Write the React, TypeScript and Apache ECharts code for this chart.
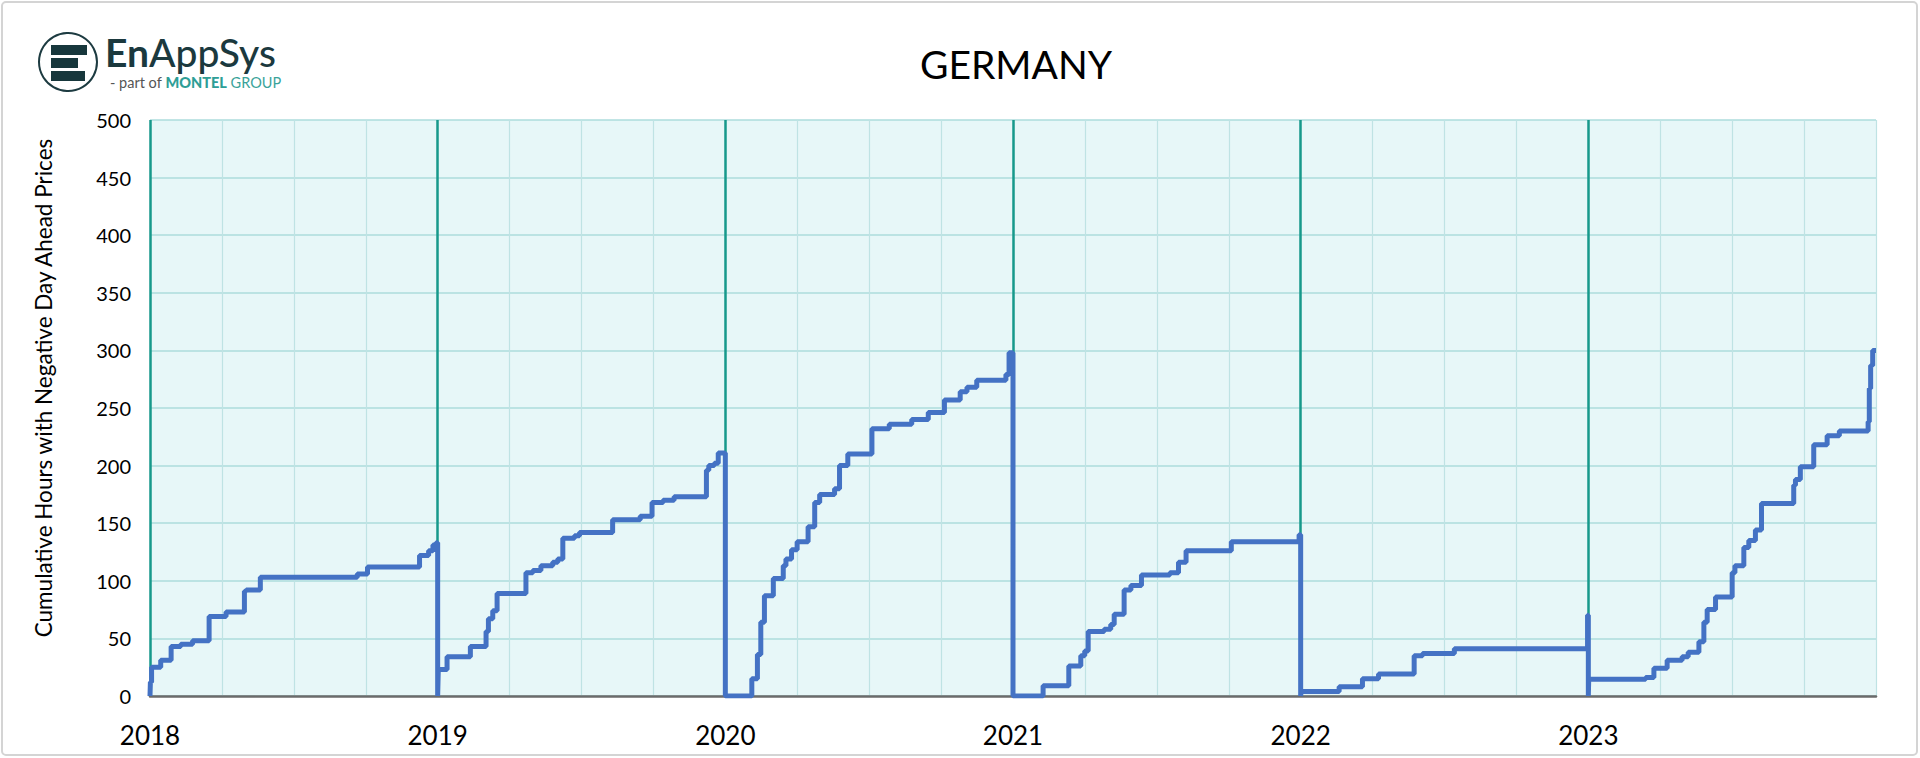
import React, { useEffect, useRef } from 'react';
import * as echarts from 'echarts';

const FONT = 'Lato, "Noto Sans", sans-serif';

// Years shown on the x axis
const YEARS = [2018, 2019, 2020, 2021, 2022, 2023];

// Cumulative hours with negative day-ahead prices: [day of year, cumulative hours]
const y2018: [number, number][] = [
  [0, 0], [0.5, 12], [2, 25], [13.6, 31], [26.8, 43], [39, 45], [54, 48], [75, 69], [96.5, 73],
  [119.8, 91], [122, 92], [140, 103], [263, 106], [276, 112], [342, 122], [353.5, 126],
  [359, 131], [363, 133], [365, 0],
];
const y2019: [number, number][] = [
  [0, 0], [0.8, 23], [11.9, 34], [41.5, 43], [61.4, 56], [64.4, 67], [69.9, 74], [75.4, 89],
  [112, 107], [120.7, 109], [131, 113], [146, 116], [152.4, 119], [158.8, 137], [173.6, 139],
  [180, 142], [222, 153], [257, 156], [272, 168], [286, 170], [300, 173], [341, 196],
  [344, 200], [351, 202], [356, 211], [365, 0],
];
const y2020: [number, number][] = [
  [0, 0], [33.6, 15], [40.7, 36], [45, 64], [49.6, 87], [60.9, 102], [73.5, 113], [76.9, 119],
  [84, 127], [91.1, 134], [105, 147], [113.4, 168], [119.7, 175], [138.6, 180], [144.9, 200],
  [155.4, 210], [186, 232], [208, 236], [236.5, 240], [257.5, 246], [278, 257], [298, 264],
  [306.6, 268], [319, 274], [356, 279], [360, 298], [365, 0],
];
const y2021: [number, number][] = [
  [0, 0], [38.2, 9], [70.8, 26], [86, 35], [91, 39], [95.4, 56], [115.7, 58], [124, 62],
  [128.4, 71], [141, 92], [149.6, 96], [163, 105], [199, 107], [210, 116], [219.6, 126],
  [277, 134], [363, 140], [365, 0],
];
const y2022: [number, number][] = [
  [0, 0], [0.5, 4], [48.8, 8], [78.4, 15], [98.8, 19], [144, 35], [154.7, 37], [195, 41],
  [364, 70], [365, 0],
];
const y2023: [number, number][] = [
  [0, 0], [0.5, 14.5], [72.7, 16], [83.2, 24], [100, 31], [119, 34], [126.7, 38], [140.3, 47],
  [146.6, 64], [150.8, 75], [161.4, 86], [182.5, 107], [186, 113], [197.3, 129], [203.6, 135],
  [212, 144], [219.7, 167], [260.6, 183], [262.8, 188], [269, 199], [286, 218], [303, 226],
  [318.5, 230], [355, 238], [356.5, 267], [358.2, 287], [360.8, 300], [365, 300],
];
const YEAR_DATA = [y2018, y2019, y2020, y2021, y2022, y2023];

const Y_TITLE = 'Cumulative Hours with Negative Day Ahead Prices';
const CHART_TITLE = 'GERMANY';

function buildLine(): [number, number][] {
  const out: [number, number][] = [];
  YEAR_DATA.forEach((arr, i) => {
    const yr = YEARS[i];
    arr.forEach(([d, v]) => out.push([yr + d / 365, v]));
  });
  return out;
}

export default function App() {
  const ref = useRef<HTMLDivElement>(null);
  useEffect(() => {
    document.body.style.margin = '0';
    if (!ref.current) return;
    const chart = echarts.init(ref.current, null, { renderer: 'svg' });
    chart.setOption({
      animation: false,
      backgroundColor: '#ffffff',
      grid: {
        left: 150, right: 44, top: 120, bottom: 62,
        show: true, backgroundColor: '#e7f7f8', borderWidth: 0,
      },
      xAxis: {
        type: 'value', min: 2018, max: 2024, interval: 0.25,
        axisLine: { show: true, lineStyle: { color: '#6b6b6b', width: 2.5 } },
        axisTick: { show: false },
        axisLabel: {
          formatter: (v: number) => (Number.isInteger(v) && v < 2024 ? String(v) : ''),
          fontSize: 26, color: '#000', margin: 26, fontFamily: FONT,
        },
        splitLine: { show: true, lineStyle: { color: '#bfe3e4', width: 1.2 } },
      },
      yAxis: {
        type: 'value', min: 0, max: 500, interval: 50,
        axisLine: { show: false }, axisTick: { show: false },
        axisLabel: { fontSize: 20, color: '#000', margin: 19, fontFamily: FONT },
        splitLine: { lineStyle: { color: '#acdcdd', width: 1.5 } },
        name: Y_TITLE, nameLocation: 'middle', nameGap: 95,
        nameTextStyle: { fontSize: 22.5, color: '#000', fontFamily: FONT, padding: [0, 0, 0, 40] },
      },
      graphic: [
        { type: 'rect', shape: { x: 2, y: 2, width: 1915, height: 753, r: 4 },
          style: { fill: 'none', stroke: '#d4d4d4', lineWidth: 2 }, silent: true },
        { type: 'circle', shape: { cx: 68, cy: 62, r: 29 },
          style: { fill: '#ffffff', stroke: '#1d3b41', lineWidth: 2 } },
        { type: 'rect', shape: { x: 51, y: 45, width: 36, height: 10 }, style: { fill: '#17373c' } },
        { type: 'rect', shape: { x: 51, y: 58, width: 27, height: 10 }, style: { fill: '#17373c' } },
        { type: 'rect', shape: { x: 51, y: 71, width: 34, height: 10 }, style: { fill: '#17373c' } },
        { type: 'text', x: 105, y: 52,
          style: {
            text: '{a|En}{b|AppSys}', verticalAlign: 'middle', align: 'left',
            rich: {
              a: { fontSize: 39, fontWeight: 700, fill: '#1b393e', fontFamily: FONT },
              b: { fontSize: 39, fontWeight: 500, fill: '#1b393e', fontFamily: FONT },
            },
          } },
        { type: 'text', x: 110, y: 82,
          style: {
            text: '{g|- part of }{m|MONTEL}{t| GROUP}', verticalAlign: 'middle', align: 'left',
            rich: {
              g: { fontSize: 14.5, fill: '#555555', fontFamily: FONT },
              m: { fontSize: 14.5, fontWeight: 900, fill: '#2e9e96', fontFamily: FONT },
              t: { fontSize: 14.5, fill: '#3aa39a', fontFamily: FONT },
            },
          } },
        { type: 'text', x: 1016, y: 64,
          style: { text: CHART_TITLE, align: 'center', verticalAlign: 'middle',
            fontSize: 39, fill: '#000', fontFamily: FONT } },
      ],
      series: [
        {
          type: 'line', data: [], silent: true,
          markLine: {
            silent: true, symbol: ['none', 'none'], label: { show: false },
            lineStyle: { color: '#17998b', width: 2.5, type: 'solid' },
            data: YEARS.map((y) => ({ xAxis: y })),
          },
        },
        {
          type: 'line', step: 'end', z: 10, showSymbol: false, symbol: 'none',
          lineStyle: { color: '#4472c4', width: 5 },
          data: buildLine(),
        },
      ],
    });
    return () => chart.dispose();
  }, []);
  return <div ref={ref} style={{ width: 1920, height: 758 }} />;
}
